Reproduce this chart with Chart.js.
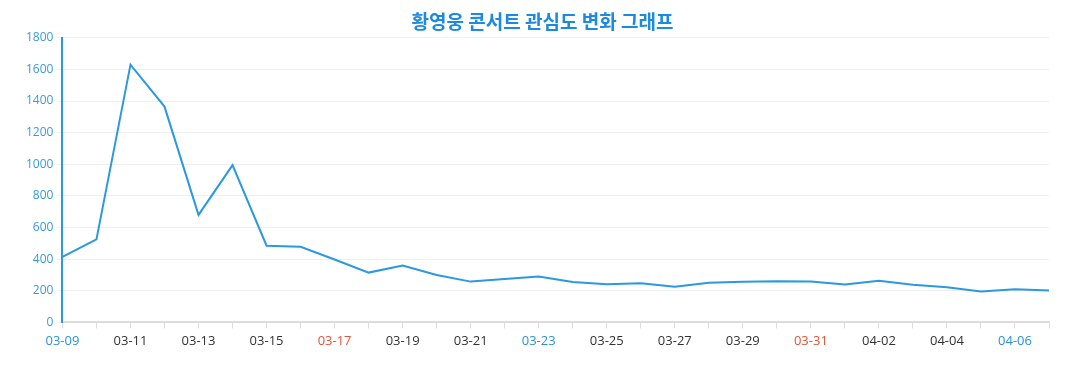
<!DOCTYPE html>
<html>
<head>
<meta charset="utf-8">
<script src="https://cdn.jsdelivr.net/npm/chart.js@4.4.1/dist/chart.umd.min.js"></script>
<style>
html,body{margin:0;padding:0;background:#fff;}
#wrap{width:1077px;height:390px;position:relative;}
</style>
</head>
<body>
<div id="wrap"><canvas id="c"></canvas></div>
<script>
const chartTitle = '황영웅 콘서트 관심도 변화 그래프';
const dates = ['03-09','03-10','03-11','03-12','03-13','03-14','03-15','03-16','03-17','03-18',
  '03-19','03-20','03-21','03-22','03-23','03-24','03-25','03-26','03-27','03-28',
  '03-29','03-30','03-31','04-01','04-02','04-03','04-04','04-05','04-06','04-07'];
const interest = [415,525,1630,1365,680,995,485,478,398,315,
  360,300,258,274,290,255,242,248,225,250,
  257,261,259,240,263,238,223,195,210,201];
const yTicks = [0,200,400,600,800,1000,1200,1400,1600,1800];
const blueDates = ['03-09','03-23','04-06'];
const redDates = ['03-17','03-31'];

const BLUE = '#2b98e0';
const titleShift = {
  id: 'titleShift',
  afterLayout(chart) {
    const t = chart.titleBlock;
    if (t) { t.left += 14; }
  }
};
new Chart(document.getElementById('c'), {
  type: 'line',
  data: {
    labels: dates,
    datasets: [{
      data: interest,
      borderColor: BLUE,
      borderWidth: 2,
      pointRadius: 0,
      tension: 0,
      fill: false
    }]
  },
  options: {
    responsive: true,
    maintainAspectRatio: false,
    animation: false,
    layout: { padding: { left: 22, right: 28, top: 6, bottom: 36 } },
    plugins: {
      legend: { display: false },
      tooltip: { enabled: false },
      title: {
        display: true,
        text: chartTitle,
        color: '#1b8ae0',
        font: { family: '"Noto Sans CJK KR", sans-serif', size: 19, weight: 'bold' },
        padding: { top: 4, bottom: 5 }
      }
    },
    scales: {
      x: {
        offset: false,
        border: { display: true, color: '#dcdcdc', width: 2 },
        grid: { drawOnChartArea: false, drawTicks: true, tickLength: 6, color: '#dcdcdc' },
        ticks: {
          autoSkip: false,
          maxRotation: 0,
          padding: 5,
          font: { family: '"Open Sans", sans-serif', size: 13 },
          color: (ctx) => {
            const l = dates[ctx.index];
            if (blueDates.includes(l)) return '#2a93d5';
            if (redDates.includes(l)) return '#e0553a';
            return '#333333';
          },
          callback: function(v, i) { return i % 2 === 0 ? dates[i] : ''; }
        }
      },
      y: {
        min: yTicks[0],
        max: yTicks[yTicks.length - 1],
        border: { display: true, color: BLUE, width: 2 },
        grid: { color: '#efefef', drawTicks: true, tickLength: 5 },
        afterBuildTicks: (axis) => { axis.ticks = yTicks.map(v => ({ value: v })); },
        ticks: {
          padding: 4,
          color: '#3a9ad8',
          font: { family: '"Open Sans", sans-serif', size: 12 },
          callback: (v) => String(v)
        }
      }
    }
  },
  plugins: [titleShift]
});
</script>
</body>
</html>
